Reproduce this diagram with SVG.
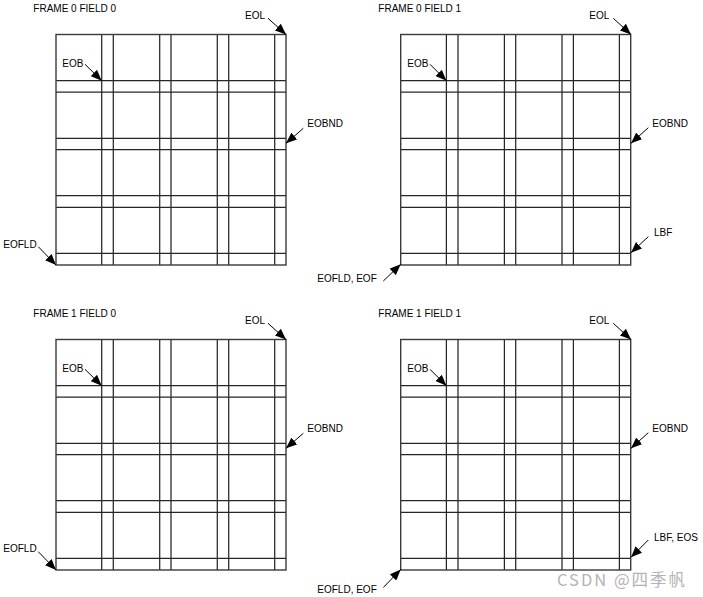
<svg xmlns="http://www.w3.org/2000/svg" width="703" height="597" viewBox="0 0 703 597">
<style>
  .g line { stroke:#262626; stroke-width:1.25; }
  .g rect { fill:none; stroke:#3a3a3a; stroke-width:1.4; }
  .lbl { font-family:"Liberation Sans", Arial, sans-serif; font-size:10px; fill:#000; }
  .arr { stroke:#000; stroke-width:1; fill:none; marker-end:url(#ah); }
  .wm { font-family:"Noto Sans CJK SC", "Noto Sans", sans-serif; font-size:16.5px; fill:#b4b4b4; }
</style>
<defs>
  <marker id="ah" markerUnits="userSpaceOnUse" markerWidth="11" markerHeight="9" refX="11" refY="4.5" orient="auto">
    <path d="M0,0 L11,4.5 L0,9 z" fill="#000"/>
  </marker>
  <g id="grid" class="g">
    <line x1="101.7" y1="34.5" x2="101.7" y2="265"/>
    <line x1="113.3" y1="34.5" x2="113.3" y2="265"/>
    <line x1="159.7" y1="34.5" x2="159.7" y2="265"/>
    <line x1="171" y1="34.5" x2="171" y2="265"/>
    <line x1="217.3" y1="34.5" x2="217.3" y2="265"/>
    <line x1="228.7" y1="34.5" x2="228.7" y2="265"/>
    <line x1="274.7" y1="34.5" x2="274.7" y2="265"/>
    <line x1="56" y1="80.7" x2="286" y2="80.7"/>
    <line x1="56" y1="92" x2="286" y2="92"/>
    <line x1="56" y1="138.3" x2="286" y2="138.3"/>
    <line x1="56" y1="149.7" x2="286" y2="149.7"/>
    <line x1="56" y1="195.7" x2="286" y2="195.7"/>
    <line x1="56" y1="207.3" x2="286" y2="207.3"/>
    <line x1="56" y1="253.3" x2="286" y2="253.3"/>
    <rect x="56" y="34.5" width="230" height="230.5"/>
  </g>
</defs>

<g id="frame0field0">
  <use href="#grid"/>
  <text class="lbl" x="33.3" y="11.7">FRAME 0 FIELD 0</text>
  <text class="lbl" x="245" y="18.5">EOL</text>
  <text class="lbl" x="62.3" y="66.5">EOB</text>
  <text class="lbl" x="307.3" y="127.3">EOBND</text>
  <text class="lbl" x="3.3" y="248.3">EOFLD</text>
</g>

<g id="frame0field1">
  <use href="#grid" transform="translate(344.7,0)"/>
  <text class="lbl" x="378.3" y="11.7">FRAME 0 FIELD 1</text>
  <text class="lbl" x="589.3" y="18.5">EOL</text>
  <text class="lbl" x="407.3" y="66.5">EOB</text>
  <text class="lbl" x="652.3" y="127.3">EOBND</text>
  <text class="lbl" x="654" y="235.7">LBF</text>
  <text class="lbl" x="317.3" y="282">EOFLD, EOF</text>
</g>

<g id="frame1field0">
  <use href="#grid" transform="translate(0,305)"/>
  <text class="lbl" x="33.3" y="316.9">FRAME 1 FIELD 0</text>
  <text class="lbl" x="245" y="323.5">EOL</text>
  <text class="lbl" x="62.3" y="371.5">EOB</text>
  <text class="lbl" x="307.3" y="432.1">EOBND</text>
  <text class="lbl" x="3.3" y="551.7">EOFLD</text>
</g>

<g id="frame1field1">
  <use href="#grid" transform="translate(344.7,305)"/>
  <text class="lbl" x="378.3" y="316.9">FRAME 1 FIELD 1</text>
  <text class="lbl" x="589.3" y="323.5">EOL</text>
  <text class="lbl" x="407.3" y="371.5">EOB</text>
  <text class="lbl" x="652.3" y="432.1">EOBND</text>
  <text class="lbl" x="654" y="541.3">LBF, EOS</text>
  <text class="lbl" x="317.3" y="592.5">EOFLD, EOF</text>
</g>

<g id="connectors">
  <line class="arr" x1="268" y1="18.3" x2="286" y2="34.5"/>
  <line class="arr" x1="85" y1="64.3" x2="101.7" y2="80.7"/>
  <line class="arr" x1="303.3" y1="128.3" x2="286" y2="143.3"/>
  <line class="arr" x1="38.3" y1="246.7" x2="56" y2="265"/>

  <line class="arr" x1="613.3" y1="18.3" x2="631" y2="34.5"/>
  <line class="arr" x1="430" y1="64.3" x2="446.4" y2="80.7"/>
  <line class="arr" x1="648.3" y1="127.7" x2="631" y2="143.3"/>
  <line class="arr" x1="648.3" y1="236.7" x2="631" y2="252.7"/>
  <line class="arr" x1="383.3" y1="281" x2="400.7" y2="264.3"/>

  <line class="arr" x1="268" y1="323.3" x2="286" y2="339.5"/>
  <line class="arr" x1="85" y1="369.3" x2="101.7" y2="385.7"/>
  <line class="arr" x1="303.3" y1="433.3" x2="286" y2="448.3"/>
  <line class="arr" x1="38.3" y1="551.7" x2="56" y2="570"/>

  <line class="arr" x1="613.3" y1="323.3" x2="631" y2="339.5"/>
  <line class="arr" x1="430" y1="369.3" x2="446.4" y2="385.7"/>
  <line class="arr" x1="648.3" y1="432.7" x2="631" y2="448.3"/>
  <line class="arr" x1="648.3" y1="540" x2="631" y2="557.3"/>
  <line class="arr" x1="383.3" y1="587.5" x2="400.7" y2="569.5"/>
</g>

<text class="wm" x="557" y="586" textLength="128" lengthAdjust="spacing">CSDN @四季帆</text>
</svg>
